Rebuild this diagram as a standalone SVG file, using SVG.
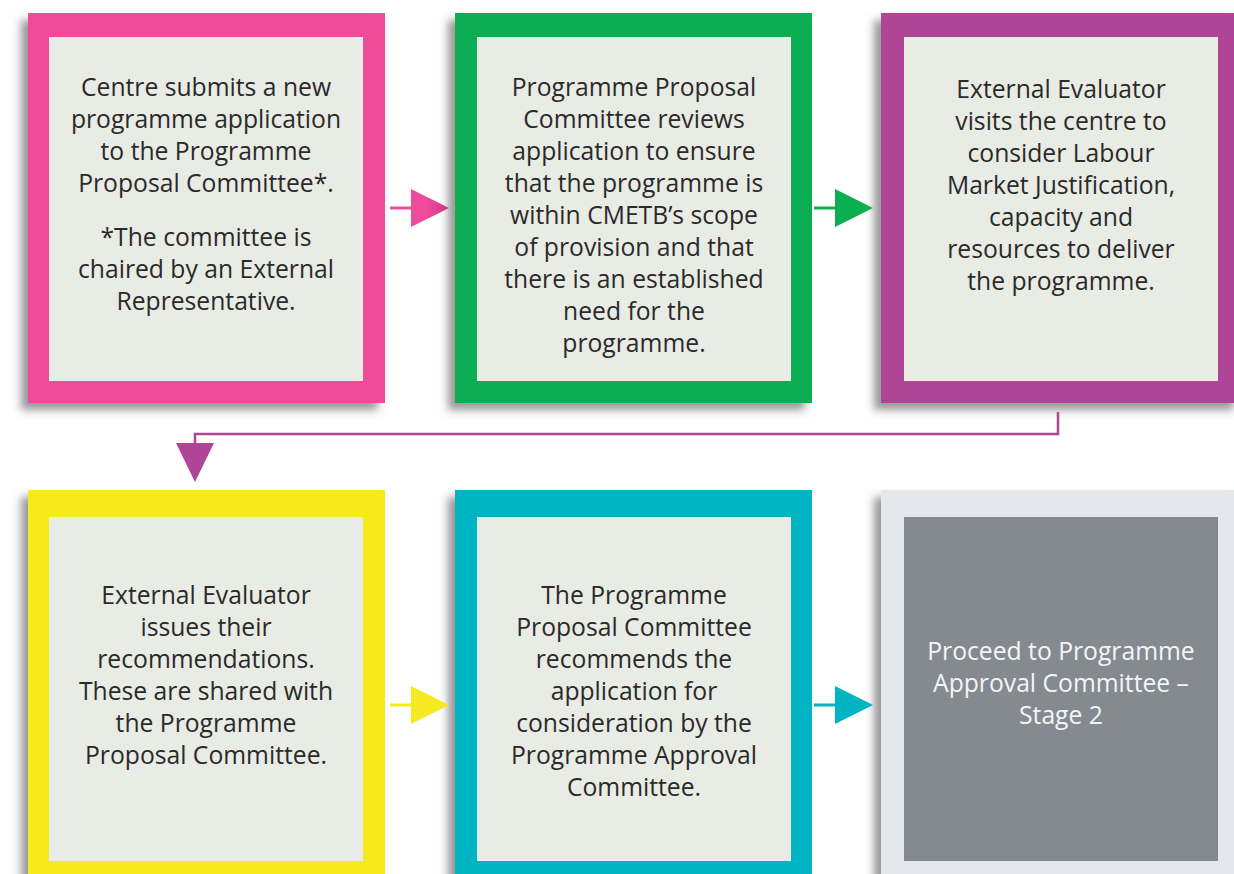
<svg xmlns="http://www.w3.org/2000/svg" width="1234" height="874" viewBox="0 0 1234 874">
<defs>
<filter id="sh" x="-10%" y="-10%" width="120%" height="120%">
<feDropShadow dx="-7" dy="7" stdDeviation="4" flood-color="#444" flood-opacity="0.55"/>
</filter>
<linearGradient id="pg" x1="0" y1="0" x2="1" y2="0">
<stop offset="0.4" stop-color="#ee4b9b"/>
<stop offset="1" stop-color="#c93684"/>
</linearGradient>
</defs>
<style>
.t{font-family:"Open Sans","Noto Sans",sans-serif;font-size:24.7px;fill:#2a2a2a;text-anchor:middle}
.w{fill:#f4f5f6}
.panel{fill:#e9ebe5}
</style>
<rect width="1234" height="874" fill="#ffffff"/>
<g id="node1">
<rect x="28" y="13" width="357" height="390" fill="#ee4b9b" filter="url(#sh)"/>
<rect class="panel" x="49" y="37" width="314" height="344"/>
<text class="t"><tspan x="206" y="96">Centre submits a new</tspan><tspan x="206" y="128">programme application</tspan><tspan x="206" y="160">to the Programme</tspan><tspan x="206" y="192">Proposal Committee*.</tspan><tspan x="206" y="246">*The committee is</tspan><tspan x="206" y="278">chaired by an External</tspan><tspan x="206" y="310">Representative.</tspan></text>
</g>
<g id="node2">
<rect x="455" y="13" width="357" height="390" fill="#0cae52" filter="url(#sh)"/>
<rect class="panel" x="477" y="37" width="314" height="344"/>
<text class="t"><tspan x="634" y="96">Programme Proposal</tspan><tspan x="634" y="128">Committee reviews</tspan><tspan x="634" y="160">application to ensure</tspan><tspan x="634" y="192">that the programme is</tspan><tspan x="634" y="224">within CMETB’s scope</tspan><tspan x="634" y="256">of provision and that</tspan><tspan x="634" y="288">there is an established</tspan><tspan x="634" y="320">need for the</tspan><tspan x="634" y="352">programme.</tspan></text>
</g>
<g id="node3">
<rect x="881" y="13" width="360" height="390" fill="#ae4597" filter="url(#sh)"/>
<rect class="panel" x="904" y="37" width="314" height="344"/>
<text class="t"><tspan x="1061" y="98">External Evaluator</tspan><tspan x="1061" y="130">visits the centre to</tspan><tspan x="1061" y="162">consider Labour</tspan><tspan x="1061" y="194">Market Justification,</tspan><tspan x="1061" y="226">capacity and</tspan><tspan x="1061" y="258">resources to deliver</tspan><tspan x="1061" y="290">the programme.</tspan></text>
</g>
<g id="node4">
<rect x="28" y="490" width="357" height="400" fill="#f5ea1f" filter="url(#sh)"/>
<rect class="panel" x="49" y="517" width="314" height="344"/>
<text class="t"><tspan x="206" y="604">External Evaluator</tspan><tspan x="206" y="636">issues their</tspan><tspan x="206" y="668">recommendations.</tspan><tspan x="206" y="700">These are shared with</tspan><tspan x="206" y="732">the Programme</tspan><tspan x="206" y="764">Proposal Committee.</tspan></text>
</g>
<g id="node5">
<rect x="455" y="490" width="357" height="400" fill="#00b4c4" filter="url(#sh)"/>
<rect class="panel" x="477" y="517" width="314" height="344"/>
<text class="t"><tspan x="634" y="604">The Programme</tspan><tspan x="634" y="636">Proposal Committee</tspan><tspan x="634" y="668">recommends the</tspan><tspan x="634" y="700">application for</tspan><tspan x="634" y="732">consideration by the</tspan><tspan x="634" y="764">Programme Approval</tspan><tspan x="634" y="796">Committee.</tspan></text>
</g>
<g id="node6">
<rect x="881" y="490" width="360" height="400" fill="#e4e7eb" filter="url(#sh)"/>
<rect x="904" y="517" width="314" height="344" fill="#858a91"/>
<text class="t w"><tspan x="1061" y="660">Proceed to Programme</tspan><tspan x="1061" y="692">Approval Committee –</tspan><tspan x="1061" y="724">Stage 2</tspan></text>
</g>
<g id="connectors">
<line x1="390" y1="208" x2="412" y2="208" stroke="#ee4b9b" stroke-width="3"/>
<polygon points="411,189 449,208 411,227" fill="url(#pg)"/>
<line x1="814" y1="208" x2="836" y2="208" stroke="#0cae52" stroke-width="3"/>
<polygon points="835,189 873,208 835,227" fill="#0cae52"/>
<polyline points="1058,412 1058,434 195,434 195,444" fill="none" stroke="#ae4597" stroke-width="2.5"/>
<polygon points="176,443 214,443 195,482" fill="#ae4597"/>
<line x1="390" y1="705" x2="412" y2="705" stroke="#f5ea1f" stroke-width="3"/>
<polygon points="411,686 449,705 411,724" fill="#f5ea1f"/>
<line x1="814" y1="705" x2="836" y2="705" stroke="#00b4c4" stroke-width="3"/>
<polygon points="835,686 873,705 835,724" fill="#00b4c4"/>
</g>
</svg>
